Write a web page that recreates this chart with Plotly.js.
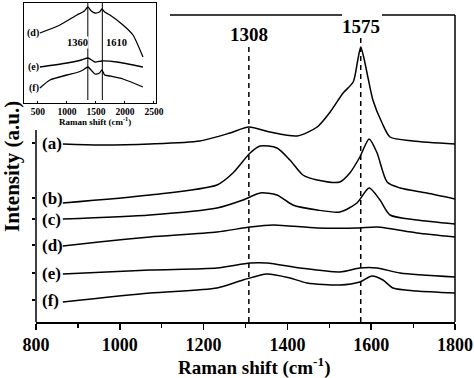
<!DOCTYPE html>
<html><head><meta charset="utf-8">
<script src="https://cdn.plot.ly/plotly-3.0.1.min.js"></script>
<style>html,body{margin:0;padding:0;background:#fff}#plot{width:474px;height:378px}</style>
</head><body><div id="plot"></div>
<script>
// ---- main spectra (Raman shift in cm^-1, intensity in arbitrary units, stacked) ----
const xA = [864, 953, 1072, 1191, 1263, 1308, 1358, 1423, 1471, 1502, 1533, 1557, 1568, 1575, 1582, 1592, 1604, 1626, 1645, 1700, 1800];
const yA = [178, 177, 178, 181, 189, 195, 190, 186, 195, 210, 229, 240, 262, 275, 265, 245, 222, 199, 185, 181, 178];
const xB = [864, 1072, 1232, 1270, 1311, 1335, 1375, 1406, 1437, 1471, 1525, 1549, 1573, 1595, 1614, 1638, 1669, 1733, 1800];
const yB = [119, 127, 137, 149, 169, 176, 174, 162, 147, 142, 140, 149, 165, 183, 169, 140, 134, 129, 123];
const xC = [864, 1072, 1232, 1294, 1335, 1375, 1413, 1471, 1525, 1566, 1595, 1621, 1645, 1709, 1800];
const yC = [103, 107, 114, 122, 129, 127, 117, 112, 110, 119, 134, 122, 107, 102, 98];
const xD = [864, 950, 1072, 1232, 1311, 1366, 1471, 1570, 1614, 1709, 1800];
const yD = [76, 80, 85, 90, 95, 97, 94, 94, 95, 89, 85];
const xE = [864, 1072, 1232, 1311, 1351, 1430, 1525, 1573, 1614, 1669, 1800];
const yE = [48, 52, 54, 59, 59, 54, 50, 54, 54, 49, 45];
const xF = [864, 1072, 1232, 1294, 1351, 1406, 1447, 1525, 1573, 1602, 1628, 1652, 1709, 1800];
const yF = [20, 29, 34, 42, 48, 44, 39, 37, 40, 46, 42, 34, 31, 29];
const curveLabels = ["(a)", "(b)", "(c)", "(d)", "(e)", "(f)"];
const labelY = [179, 124, 103, 77, 49, 22];
const peakPos = [1308, 1575];
const peakText = ["1308", "1575"];
const peakTop = [277, 284];

// ---- inset spectra ----
const inXD = [534, 879, 1172, 1300, 1362, 1420, 1483, 1560, 1603, 1650, 1741, 1966, 2138, 2310];
const inYD = [70, 78, 88, 92, 96, 92, 90, 91, 94, 91, 88, 78, 68, 46];
const inXE = [534, 1000, 1250, 1362, 1483, 1603, 1862, 2310];
const inYE = [36, 40, 43, 45, 41, 42, 41, 36];
const inXF = [534, 707, 1000, 1200, 1276, 1362, 1483, 1560, 1603, 1650, 1741, 1966, 2310];
const inYF = [15, 23, 28, 31, 33, 36, 29, 30, 33, 28, 27, 24, 16];
const inLabels = ["(d)", "(e)", "(f)"];
const inLabelY = [70, 36, 15];
const inPeakPos = [1360, 1610];
const inPeakText = ["1360", "1610"];
const inTicks = [500, 1000, 1500, 2000, 2500];
const mainTicks = [800, 1000, 1200, 1400, 1600, 1800];

const W = 474, H = 378;
const px = v => v / W, py = v => 1 - v / H;
const serif = "Liberation Serif, Times New Roman, serif";
const lineStyle = {color: "#000", width: 1.5, shape: "spline", smoothing: 0.7};
const bold = v => "<b>" + v + "</b>";

const traces = [];
[[xA,yA],[xB,yB],[xC,yC],[xD,yD],[xE,yE],[xF,yF]].forEach(s => {
  traces.push({x: s[0], y: s[1], type: "scatter", mode: "lines", line: lineStyle, xaxis: "x", yaxis: "y", hoverinfo: "skip"});
});
peakPos.forEach((p, i) => {
  traces.push({x: [p, p], y: [0, peakTop[i]], type: "scatter", mode: "lines", line: {color: "#000", width: 1.5, dash: "5px,4px"}, xaxis: "x", yaxis: "y"});
});
[[inXD,inYD],[inXE,inYE],[inXF,inYF]].forEach(s => {
  traces.push({x: s[0], y: s[1], type: "scatter", mode: "lines", line: {color: "#000", width: 1.3, shape: "spline", smoothing: 0.6}, xaxis: "x2", yaxis: "y2"});
});
inPeakPos.forEach(p => {
  traces.push({x: [p, p], y: [3, 100], type: "scatter", mode: "lines", line: {color: "#000", width: 1}, xaxis: "x2", yaxis: "y2"});
});

const annotations = [];
curveLabels.forEach((t, i) => annotations.push({
  text: bold(t), x: px(40), xref: "paper", xanchor: "left", y: labelY[i], yref: "y", yanchor: "middle",
  showarrow: false, font: {family: serif, size: 17, color: "#000"}
}));
peakPos.forEach((p, i) => annotations.push({
  text: bold(peakText[i]), x: p, xref: "x", xanchor: "center", y: py(i === 0 ? 34 : 26), yref: "paper", yanchor: "middle",
  showarrow: false, font: {family: serif, size: 19, color: "#000"}
}));
inLabels.forEach((t, i) => annotations.push({
  text: bold(t), x: px(41), xref: "paper", xanchor: "right", y: inLabelY[i], yref: "y2", yanchor: "middle",
  showarrow: false, font: {family: serif, size: 10, color: "#000"}
}));
inPeakPos.forEach((p, i) => annotations.push({
  text: bold(inPeakText[i]), x: p, xref: "x2", y: py(43), yref: "paper", yanchor: "middle",
  xanchor: i === 0 ? "right" : "left", xshift: i === 0 ? 1 : 3,
  showarrow: false, bgcolor: "#fff", borderpad: 0,
  font: {family: serif, size: 10.5, color: "#000"}
}));
annotations.push({text: bold("Raman shift (cm<sup>-1</sup>)"), x: px(95), y: py(121), xref: "paper", yref: "paper",
  xanchor: "center", yanchor: "middle",
  showarrow: false, font: {family: serif, size: 9, color: "#000"}});
annotations.push({text: bold("Raman shift (cm<sup>-1</sup>)"), x: px(254), y: py(366), xref: "paper", yref: "paper",
  xanchor: "center", yanchor: "middle",
  showarrow: false, font: {family: serif, size: 19, color: "#000"}});
annotations.push({text: bold("Intensity (a.u.)"), x: px(12), y: py(167), xref: "paper", yref: "paper", textangle: -90,
  xanchor: "center", yanchor: "middle",
  showarrow: false, font: {family: serif, size: 21, color: "#000"}});

const shapes = [
  {type: "line", xref: "paper", yref: "paper", x0: px(170), x1: px(342), y0: py(15), y1: py(15), line: {color: "#000", width: 1.5}},
  {type: "line", xref: "paper", yref: "paper", x0: px(382), x1: px(455), y0: py(15), y1: py(15), line: {color: "#000", width: 1.5}},
  {type: "line", xref: "paper", yref: "paper", x0: px(455), x1: px(455), y0: py(15), y1: py(322), line: {color: "#000", width: 1.5}},
  {type: "line", xref: "paper", yref: "paper", x0: px(36), x1: px(36), y0: py(130), y1: py(322), line: {color: "#000", width: 1.5}}
];

const layout = {
  width: W, height: H, margin: {l: 0, r: 0, t: 0, b: 0},
  paper_bgcolor: "#fff", plot_bgcolor: "rgba(0,0,0,0)", showlegend: false,
  xaxis: {domain: [px(36), px(455)], anchor: "y", range: [800, 1800], tickvals: mainTicks, ticktext: mainTicks.map(bold),
    ticks: "outside", ticklen: 6, tickwidth: 1.5, tickcolor: "#000",
    minor: {dtick: 100, tick0: 800, ticks: "outside", ticklen: 4, tickwidth: 1.2, tickcolor: "#000"},
    showline: true, linecolor: "#000", linewidth: 1.5, showgrid: false, zeroline: false,
    tickfont: {family: serif, size: 18, color: "#000"}},
  yaxis: {domain: [py(322), py(15)], anchor: "x", range: [0, 307], tickvals: labelY, showticklabels: false,
    ticks: "outside", ticklen: 3, tickwidth: 1.2, tickcolor: "#000",
    showline: false, showgrid: false, zeroline: false},
  xaxis2: {domain: [px(24), px(156)], anchor: "y2", range: [260, 2535], tickvals: inTicks, ticktext: inTicks.map(bold),
    ticks: "inside", ticklen: 2, tickcolor: "#000", showline: true, mirror: true, linecolor: "#000", linewidth: 1,
    showgrid: false, zeroline: false,
    tickfont: {family: serif, size: 9.5, color: "#000"}},
  yaxis2: {domain: [py(103), py(3)], anchor: "x2", range: [0, 100], showticklabels: false, ticks: "",
    showline: true, mirror: true, linecolor: "#000", linewidth: 1, showgrid: false, zeroline: false},
  annotations: annotations, shapes: shapes
};
Plotly.newPlot("plot", traces, layout, {displayModeBar: false, staticPlot: true});
</script></body></html>
